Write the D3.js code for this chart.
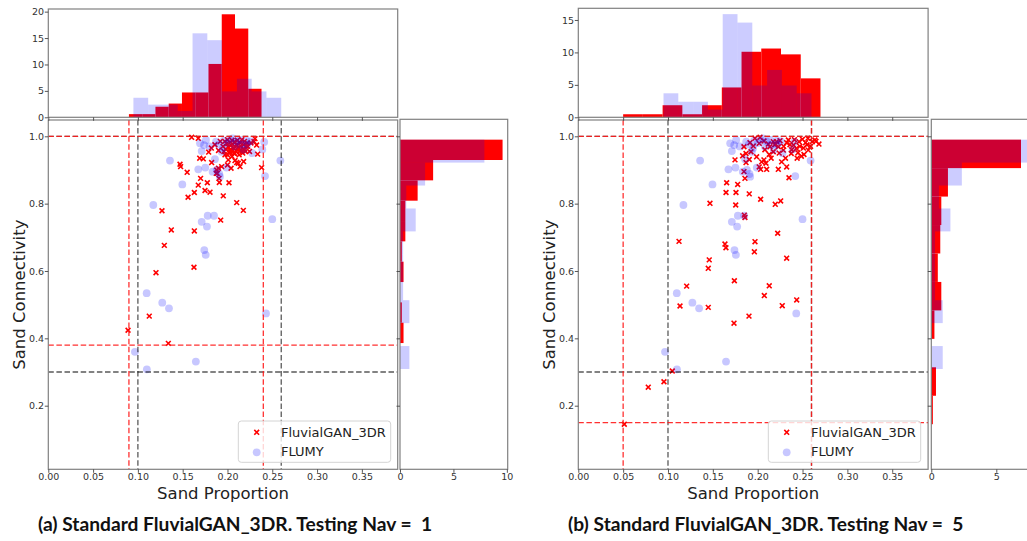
<!DOCTYPE html>
<html>
<head>
<meta charset="utf-8">
<script src="https://cdn.jsdelivr.net/npm/d3@7"></script>
<style>
  body { margin: 0; background: #fff; }
  svg { display: block; }
  text { font-family: "DejaVu Sans", sans-serif; }
</style>
</head>
<body>
<svg id="chart" width="1027" height="541"></svg>
<script>
// ---------------------------------------------------------------------------
// Data: [sand proportion, sand connectivity]
// ---------------------------------------------------------------------------
// FLUMY realisations (same reference set in both panels)
const flumyPoints = [
  [0.0967,0.360],[0.110,0.308],[0.1647,0.331],[0.1098,0.534],[0.1272,0.506],
  [0.1347,0.489],[0.243,0.474],[0.1757,0.648],[0.1741,0.662],[0.1771,0.732],
  [0.1712,0.746],[0.1779,0.764],[0.185,0.764],[0.250,0.754],[0.1172,0.796],
  [0.1496,0.857],[0.2419,0.882],[0.1674,0.902],[0.1752,0.907],[0.1834,0.895],
  [0.1909,0.888],[0.199,0.907],[0.188,0.900],[0.1916,0.880],[0.1358,0.928],
  [0.259,0.928],[0.186,0.932],[0.2277,0.950],[0.2389,0.961],[0.241,0.983],
  [0.1693,0.979],[0.1738,0.974],[0.1712,0.956],[0.176,0.989],[0.1872,0.984],
  [0.1935,0.954],[0.196,0.987],[0.2058,0.994],[0.214,0.989],[0.2214,0.987],
  [0.180,0.970],[0.190,0.975],[0.195,0.965],[0.200,0.980],[0.203,0.990],
  [0.208,0.970],[0.210,0.985],[0.215,0.975],[0.218,0.960],[0.222,0.975],
  [0.226,0.985]
];

// FluvialGAN_3DR realisations, Nav = 1
const ganNav1Points = [
  [0.089,0.424],[0.134,0.385],[0.1127,0.466],[0.1202,0.595],[0.1626,0.611],
  [0.1295,0.676],[0.1373,0.722],[0.163,0.719],[0.1269,0.779],[0.1924,0.751],
  [0.2177,0.780],[0.2103,0.803],[0.1953,0.823],[0.156,0.819],[0.163,0.833],
  [0.1749,0.839],[0.1805,0.834],[0.1674,0.855],[0.1775,0.862],[0.1909,0.863],
  [0.2017,0.862],[0.170,0.875],[0.1905,0.875],[0.155,0.893],[0.147,0.917],
  [0.1477,0.910],[0.1823,0.922],[0.188,0.900],[0.190,0.905],[0.1935,0.910],
  [0.1886,0.890],[0.1875,0.890],[0.214,0.910],[0.2084,0.928],[0.2103,0.922],
  [0.2009,0.930],[0.2381,0.907],[0.169,0.935],[0.173,0.933],[0.179,0.953],
  [0.160,0.997],[0.1674,0.994],[0.2337,0.947],[0.2296,0.984],[0.2307,0.993],
  [0.2325,0.974],[0.1972,0.945],[0.2027,0.955],[0.208,0.949],[0.2136,0.955],
  [0.219,0.960],[0.2227,0.970],[0.2262,0.980],[0.2246,0.955],
  [0.182,0.965],[0.186,0.975],[0.190,0.958],[0.192,0.985],
  [0.195,0.970],[0.196,0.955],[0.197,0.985],[0.198,0.962],[0.199,0.978],
  [0.200,0.945],[0.200,0.990],[0.201,0.968],[0.202,0.952],[0.203,0.982],
  [0.203,0.960],[0.204,0.973],[0.205,0.940],[0.205,0.988],[0.206,0.958],
  [0.206,0.976],[0.207,0.965],[0.207,0.950],[0.208,0.984],[0.208,0.970],
  [0.200,0.915],[0.204,0.905],
  [0.210,0.975],[0.210,0.955],[0.211,0.988],[0.212,0.965],[0.213,0.945],
  [0.214,0.980],[0.215,0.960],[0.215,0.970],[0.216,0.990],[0.217,0.950],
  [0.218,0.975],[0.218,0.962],[0.219,0.985],[0.220,0.955],[0.221,0.970],
  [0.222,0.980],[0.212,0.920],[0.218,0.925]
];

// FluvialGAN_3DR realisations, Nav = 5
const ganNav5Points = [
  [0.0513,0.145],[0.078,0.255],[0.0955,0.271],[0.1048,0.303],[0.1134,0.496],
  [0.1123,0.688],[0.1208,0.555],[0.1468,0.801],[0.146,0.633],[0.1449,0.608],
  [0.1449,0.492],[0.1654,0.862],[0.1777,0.857],[0.1647,0.833],[0.1758,0.833],
  [0.1755,0.796],[0.1635,0.680],[0.1646,0.669],[0.174,0.571],[0.1736,0.445],
  [0.1747,0.930],
  [0.1906,0.829],[0.2033,0.813],[0.1851,0.766],[0.1858,0.759],[0.197,0.687],
  [0.1963,0.657],[0.1903,0.466],[0.187,0.922],[0.1847,0.895],[0.1858,0.875],
  [0.1925,0.954],[0.1832,0.942],[0.1951,0.971],[0.1988,0.939],[0.2017,0.909],
  [0.2033,0.902],[0.2017,0.979],[0.1969,0.994],[0.2026,0.997],[0.1914,0.981],
  [0.1847,0.969],[0.187,0.949],[0.1906,0.931],
  [0.2196,0.798],[0.2256,0.808],[0.2223,0.712],[0.2129,0.556],[0.2074,0.527],
  [0.2044,0.924],[0.207,0.930],[0.2092,0.920],[0.210,0.902],[0.2129,0.946],
  [0.207,0.986],[0.2174,0.954],[0.223,0.902],[0.2211,0.984],[0.2249,0.987],
  [0.2174,0.984],[0.2118,0.977],[0.2137,0.969],[0.223,0.969],
  [0.208,0.960],[0.215,0.935],[0.219,0.975],[0.224,0.950],
  [0.2323,0.638],[0.2435,0.514],[0.2274,0.497],[0.2267,0.924],[0.2323,0.909],
  [0.2349,0.877],[0.2286,0.959],[0.2374,0.949],[0.2449,0.951],[0.240,0.974],
  [0.2323,0.981],[0.2461,0.984],[0.2431,0.964],[0.2342,0.989],
  [0.229,0.970],[0.231,0.935],[0.236,0.975],[0.238,0.960],[0.241,0.990],
  [0.244,0.935],[0.247,0.970],
  [0.2516,0.946],[0.2487,0.941],[0.2564,0.959],[0.2534,0.981],[0.2608,0.984],
  [0.2683,0.977],[0.2638,0.989],[0.256,0.994],[0.2499,0.991],
  [0.251,0.965],[0.255,0.975],[0.259,0.970],[0.265,0.985]
];

// Marginal histograms: 10 equal bins between [min, max], density values
const flumyPropRange   = [0.095, 0.26];
const flumyPropDensity = [3.7, 2.4, 2.4, 1.2, 15.9, 14.6, 4.9, 7.3, 4.9, 3.7];
const flumyConnRange   = [0.309, 0.99];
const flumyConnDensity = [0.88, 0, 0.88, 0.29, 0.29, 0.29, 1.47, 0.59, 2.35, 7.9];

const nav1PropRange   = [0.09, 0.238];
const nav1PropDensity = [0.6, 0.6, 2.0, 2.6, 4.7, 4.7, 10.1, 19.5, 16.8, 5.4];
const nav1ConnRange   = [0.386, 0.99];
const nav1ConnDensity = [0.33, 0.17, 0, 0.33, 0.17, 0.5, 0.5, 1.65, 3.1, 9.6];

const nav5PropRange   = [0.05, 0.27];
const nav5PropDensity = [0.47, 0.47, 1.86, 0.47, 1.86, 4.6, 10.1, 10.6, 9.7, 6.0];
const nav5ConnRange   = [0.145, 0.99];
const nav5ConnDensity = [0.12, 0.36, 0, 0.24, 0.77, 0.5, 0.69, 0.77, 1.28, 6.9];

// Acceptance bounds drawn as dashed lines
const flumyPropLimits = [0.10, 0.26];
const flumyConnLimits = [0.30, 1.0];
const nav1PropLimits  = [0.09, 0.24];
const nav1ConnLimits  = [0.38, 1.0];
const nav5PropLimits  = [0.05, 0.26];
const nav5ConnLimits  = [0.15, 1.0];

// Axis ticks and labels
const propTicks  = [0, 0.05, 0.10, 0.15, 0.20, 0.25, 0.30, 0.35];
const connTicks  = [0.2, 0.4, 0.6, 0.8, 1.0];
const topTicksA  = [0, 5, 10, 15, 20];
const topTicksB  = [0, 5, 10, 15];
const sideTicksA = [0, 5, 10];
const sideTicksB = [0, 5];
const seriesNames = ["FluvialGAN_3DR", "FLUMY"];
const panelTitles = [
  "(a) Standard FluvialGAN_3DR. Testing Nav =  1",
  "(b) Standard FluvialGAN_3DR. Testing Nav =  5"
];

// ---------------------------------------------------------------------------
// Layout / style
// ---------------------------------------------------------------------------
const RED = "#ff0000";
const BLUE = "#0000ff";
const SPINE = "#808080";
const TICKTXT = "#333";

const panels = [
  {
    ox: 0,
    main: { x0: 48.3, x1: 397.7, y0: 120, y1: 469.3 },
    top: { y0: 9, y1: 117.3, max: 20.5, ticks: topTicksA },
    side: { x0: 400, x1: 507.7, max: 10.08, ticks: sideTicksA },
    gan: ganNav1Points,
    ganProp: [nav1PropRange, nav1PropDensity],
    ganConn: [nav1ConnRange, nav1ConnDensity],
    ganLimits: [nav1PropLimits, nav1ConnLimits],
    title: panelTitles[0]
  },
  {
    ox: 530,
    main: { x0: 578.3, x1: 928.1, y0: 120, y1: 469.3 },
    top: { y0: 8.3, y1: 117.3, max: 16.8, ticks: topTicksB },
    side: { x0: 931.3, x1: 1039.2, max: 8.3, ticks: sideTicksB },
    gan: ganNav5Points,
    ganProp: [nav5PropRange, nav5PropDensity],
    ganConn: [nav5ConnRange, nav5ConnDensity],
    ganLimits: [nav5PropLimits, nav5ConnLimits],
    title: panelTitles[1]
  }
];

const svg = d3.select("#chart");
const defs = svg.append("defs");

function bins(range, dens) {
  const w = (range[1] - range[0]) / dens.length;
  return dens.map((h, i) => ({ a: range[0] + i * w, b: range[0] + (i + 1) * w, h }));
}

function styleAxis(g, fontSize) {
  g.select(".domain").remove();
  g.selectAll(".tick line").attr("stroke", "#444").attr("stroke-width", 0.9);
  g.selectAll(".tick text").attr("fill", TICKTXT)
    .style("font-size", fontSize + "px")
    .style("font-family", "DejaVu Sans, sans-serif");
}

const crossPath = "M-2.4,-2.4L2.4,2.4M-2.4,2.4L2.4,-2.4";

panels.forEach((p, pi) => {
  const g = svg.append("g");
  const m = p.main;

  const x = d3.scaleLinear().domain([0, 0.39]).range([m.x0, m.x1]);
  const y = d3.scaleLinear().domain([0.0111, 1.0484]).range([m.y1, m.y0]);
  const yTop = d3.scaleLinear().domain([0, p.top.max]).range([p.top.y1, p.top.y0]);
  const xSide = d3.scaleLinear().domain([0, p.side.max]).range([p.side.x0, p.side.x1]);

  // clip for the main scatter area
  const clipId = "clip-main-" + pi;
  defs.append("clipPath").attr("id", clipId)
    .append("rect").attr("x", m.x0).attr("y", m.y0)
    .attr("width", m.x1 - m.x0).attr("height", m.y1 - m.y0);

  // ---- top marginal histogram (sand proportion) ----
  const topG = g.append("g");
  topG.selectAll("rect.gan").data(bins(p.ganProp[0], p.ganProp[1])).join("rect")
    .attr("class", "gan")
    .attr("x", d => x(d.a)).attr("width", d => x(d.b) - x(d.a))
    .attr("y", d => yTop(d.h)).attr("height", d => yTop(0) - yTop(d.h))
    .attr("fill", RED);
  topG.selectAll("rect.flumy").data(bins(flumyPropRange, flumyPropDensity)).join("rect")
    .attr("class", "flumy")
    .attr("x", d => x(d.a)).attr("width", d => x(d.b) - x(d.a))
    .attr("y", d => yTop(d.h)).attr("height", d => yTop(0) - yTop(d.h))
    .attr("fill", BLUE).attr("fill-opacity", 0.2);

  // ---- side marginal histogram (sand connectivity) ----
  const sideG = g.append("g");
  sideG.selectAll("rect.gan").data(bins(p.ganConn[0], p.ganConn[1])).join("rect")
    .attr("class", "gan")
    .attr("y", d => y(d.b)).attr("height", d => y(d.a) - y(d.b))
    .attr("x", xSide(0)).attr("width", d => xSide(d.h) - xSide(0))
    .attr("fill", RED);
  sideG.selectAll("rect.flumy").data(bins(flumyConnRange, flumyConnDensity)).join("rect")
    .attr("class", "flumy")
    .attr("y", d => y(d.b)).attr("height", d => y(d.a) - y(d.b))
    .attr("x", xSide(0)).attr("width", d => xSide(d.h) - xSide(0))
    .attr("fill", BLUE).attr("fill-opacity", 0.2);

  // ---- main scatter ----
  const mainG = g.append("g").attr("clip-path", `url(#${clipId})`);
  mainG.selectAll("path.gan").data(p.gan).join("path")
    .attr("class", "gan")
    .attr("transform", d => `translate(${x(d[0])},${y(d[1])})`)
    .attr("d", crossPath)
    .attr("stroke", RED).attr("stroke-width", 1.6).attr("fill", "none");
  mainG.selectAll("circle.flumy").data(flumyPoints).join("circle")
    .attr("class", "flumy")
    .attr("cx", d => x(d[0])).attr("cy", d => y(d[1])).attr("r", 3.9)
    .attr("fill", BLUE).attr("fill-opacity", 0.22);

  // dashed bounds: FLUMY (grey) underneath, GAN (red) on top
  const dash = "5.5,2.6";
  function vlines(vals, color, op) {
    mainG.selectAll(null).data(vals).join("line")
      .attr("x1", d => x(d)).attr("x2", d => x(d))
      .attr("y1", m.y0).attr("y2", m.y1)
      .attr("stroke", color).attr("stroke-opacity", op)
      .attr("stroke-width", 1.3).attr("stroke-dasharray", dash);
  }
  function hlines(vals, color, op) {
    mainG.selectAll(null).data(vals).join("line")
      .attr("y1", d => y(d)).attr("y2", d => y(d))
      .attr("x1", m.x0).attr("x2", m.x1)
      .attr("stroke", color).attr("stroke-opacity", op)
      .attr("stroke-width", 1.3).attr("stroke-dasharray", dash);
  }
  vlines(flumyPropLimits, "#000", 0.65);
  hlines(flumyConnLimits, "#000", 0.65);
  vlines(p.ganLimits[0], "#ff1a1a", 0.9);
  hlines(p.ganLimits[1], "#ff1a1a", 0.9);

  // ---- spines ----
  const spine = (x0, y0, x1, y1) => g.append("rect")
    .attr("x", x0).attr("y", y0).attr("width", x1 - x0).attr("height", y1 - y0)
    .attr("fill", "none").attr("stroke", SPINE).attr("stroke-width", 1.2);
  spine(m.x0, m.y0, m.x1, m.y1);
  spine(m.x0, p.top.y0, m.x1, p.top.y1);
  spine(p.side.x0, m.y0 - 0.7, p.side.x1, m.y1);

  // ---- axes ----
  const axB = g.append("g").attr("transform", `translate(0,${m.y1})`)
    .call(d3.axisBottom(x).tickValues(propTicks).tickFormat(d3.format(".2f"))
      .tickSize(3.5).tickPadding(0.5));
  styleAxis(axB, 9.5);
  const axL = g.append("g").attr("transform", `translate(${m.x0},0)`)
    .call(d3.axisLeft(y).tickValues(connTicks).tickFormat(d3.format(".1f"))
      .tickSize(3.5).tickPadding(0.8));
  styleAxis(axL, 9.5);

  const axTopL = g.append("g").attr("transform", `translate(${m.x0},0)`)
    .call(d3.axisLeft(yTop).tickValues(p.top.ticks).tickFormat(d3.format("d"))
      .tickSize(3.5).tickPadding(0.8));
  styleAxis(axTopL, 9.5);
  const axTopB = g.append("g").attr("transform", `translate(0,${p.top.y1})`)
    .call(d3.axisBottom(x).tickValues(propTicks).tickFormat("").tickSize(3.5));
  styleAxis(axTopB, 9.5);

  const axSideB = g.append("g").attr("transform", `translate(0,${m.y1})`)
    .call(d3.axisBottom(xSide).tickValues(p.side.ticks).tickFormat(d3.format("d"))
      .tickSize(3.5).tickPadding(0.5));
  styleAxis(axSideB, 9.5);
  const axSideL = g.append("g").attr("transform", `translate(${p.side.x0},0)`)
    .call(d3.axisLeft(y).tickValues(connTicks).tickFormat("").tickSize(3.5));
  styleAxis(axSideL, 9.5);

  // ---- axis labels ----
  g.append("text")
    .attr("x", (m.x0 + m.x1) / 2).attr("y", 498.5)
    .attr("text-anchor", "middle").attr("fill", "#222")
    .style("font-size", "16.5px")
    .text("Sand Proportion");
  g.append("text")
    .attr("transform", `translate(${p.ox + 24.5},${(m.y0 + m.y1) / 2}) rotate(-90)`)
    .attr("text-anchor", "middle").attr("fill", "#222")
    .style("font-size", "16.5px")
    .text("Sand Connectivity");

  // ---- legend ----
  const lg = g.append("g").attr("transform", `translate(${p.ox + 238.3},421)`);
  lg.append("rect").attr("width", 152.4).attr("height", 41.3).attr("rx", 3)
    .attr("fill", "#fff").attr("fill-opacity", 0.8)
    .attr("stroke", "#d4d4d4").attr("stroke-width", 1);
  lg.append("path").attr("d", crossPath)
    .attr("transform", "translate(18.4,11.3)")
    .attr("stroke", RED).attr("stroke-width", 1.6).attr("fill", "none");
  lg.append("circle").attr("cx", 18.4).attr("cy", 31.3).attr("r", 3.9)
    .attr("fill", BLUE).attr("fill-opacity", 0.22);
  lg.selectAll("text.lbl").data(seriesNames).join("text")
    .attr("class", "lbl")
    .attr("x", 42.7).attr("y", (d, i) => 15.7 + i * 19)
    .attr("fill", "#222").style("font-size", "13px")
    .text(d => d);

  // ---- panel caption ----
  g.append("text")
    .attr("x", p.ox + 38).attr("y", 530.5)
    .attr("fill", "#111")
    .style("font-family", "Lato, 'Liberation Sans', sans-serif")
    .style("font-weight", "bold")
    .style("font-size", "19.2px")
    .style("white-space", "pre")
    .text(p.title);
});
</script>
</body>
</html>
